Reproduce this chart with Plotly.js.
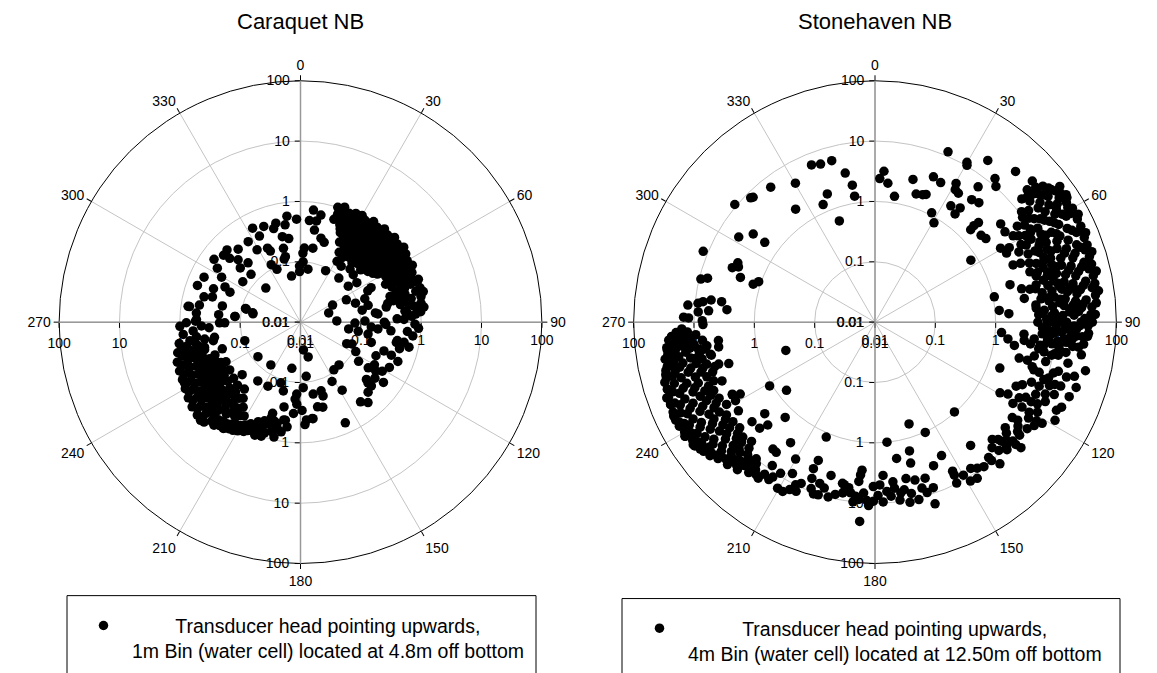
<!DOCTYPE html>
<html><head><meta charset="utf-8">
<script src="https://cdn.plot.ly/plotly-3.0.1.min.js"></script>
<style>html,body{margin:0;padding:0;background:#fff}#chart{width:1157px;height:673px}</style>
</head><body><div id="chart"></div>
<script>
const chartTitles = ['Caraquet NB', 'Stonehaven NB'];
const angularTickVals = [0,30,60,90,120,150,180,210,240,270,300,330];
const angularTickText = ['0','30','60','90','120','150','180','210','240','270','300','330'];
const radialTickVals = [0.01,0.1,1,10,100];
const radialTickText = ['0.01','0.1','1','10','100'];
const legendLine1 = 'Transducer head pointing upwards,';
const legendLine2 = ['1m Bin (water cell) located at 4.8m off bottom', '4m Bin (water cell) located at 12.50m off bottom'];

// [direction (deg, clockwise from north), value (log radial scale)]
const caraquetNE = [
[18,1.0],[21,1.1],[24,0.95],[27,1.05],[30,1.1],[33,0.98],[36,1.15],[39,1.05],[42,1.2],[45,1.1],[48,1.25],[51,1.15],[54,1.3],[57,1.2],[60,1.1],[63,1.2],[66,1.05],[69,0.95],
[19,0.78],[23,0.72],[26,0.82],[29,0.75],[32,0.85],[35,0.72],[38,0.8],[41,0.88],[44,0.75],[47,0.85],[50,0.9],[53,0.8],[56,0.92],[59,0.85],[62,0.9],[65,0.8],[68,0.7],
[22,0.55],[25,0.6],[28,0.52],[31,0.62],[34,0.55],[37,0.6],[40,0.5],[43,0.62],[46,0.58],[49,0.65],[52,0.55],[55,0.66],[58,0.6],[61,0.68],[64,0.58],[67,0.5],
[24,0.42],[27,0.38],[30,0.45],[33,0.4],[36,0.44],[39,0.38],[42,0.42],[45,0.46],[48,0.4],[51,0.45],[54,0.42],[57,0.48],[60,0.44],[63,0.5],
[26,0.3],[30,0.28],[34,0.32],[38,0.29],[42,0.3],[46,0.33],[50,0.3],[54,0.34],[58,0.32],
[29,0.21],[33,0.19],[37,0.22],[41,0.2],[45,0.23],[49,0.21],[53,0.25],
[31,0.15],[36,0.14],[43,0.16],[48,0.15],
[72,0.65],[75,0.95],[78,0.75],[73,0.45],[76,0.55],[82,0.8],[80,0.48],[71,1.1],[74,0.35]
];
const caraquetNE2 = [
[20,0.9],[23,0.85],[26,0.95],[29,0.9],[32,1.0],[35,0.9],[38,0.95],[41,1.0],[44,0.95],[47,1.05],[50,1.05],[53,1.0],[56,1.1],[59,1.0],[62,1.0],[65,0.95],[68,0.85],[71,0.85],
[21,0.65],[24,0.68],[27,0.62],[30,0.68],[33,0.7],[36,0.65],[39,0.7],[42,0.72],[45,0.66],[48,0.72],[51,0.75],[54,0.7],[57,0.75],[60,0.72],[63,0.75],[66,0.65],[69,0.6],
[23,0.48],[26,0.46],[29,0.5],[32,0.48],[35,0.5],[38,0.46],[41,0.55],[44,0.52],[47,0.5],[50,0.55],[53,0.5],[56,0.55],[59,0.52],[62,0.58],[65,0.62],
[28,0.35],[31,0.34],[35,0.36],[39,0.34],[43,0.36],[47,0.37],[51,0.36],[55,0.38],[59,0.38],[62,0.4],
[32,0.25],[36,0.26],[40,0.25],[44,0.27],[48,0.26],[52,0.28],[56,0.28],
[70,1.2],[74,1.15],[78,1.1],[81,1.05],[85,1.0],[76,1.25],[83,1.15],
[66,0.35],[69,0.42],[72,0.52],[75,0.62],[77,0.38],[79,0.58],[81,0.7],[84,0.55],[86,0.82],[70,0.75]
];
const caraquetE = [
[72,0.031],[64,0.07],[71,0.092],[79,0.11],[76,0.143],[83,0.178],[80,0.277],[77,0.44],[88.5,0.52],[91,0.79],[93,0.91],
[26,0.089],[41,0.093],[53,0.098],[55,0.138],[62,0.04],[88,0.04],[70,0.136],[84,0.195],[78,0.3],[71,0.64],[64,0.2],[90,0.245],[88,0.4],[65,0.17],[65,0.44],[63,0.95],
[91,0.08],[89,0.117],[94,0.15],[95,0.194],[91.5,0.26],[95.5,0.32],[98,0.064],[99,0.093],[100,0.137],[113,0.084],[106,0.166],[114,0.234],[109,0.29],[101,0.56],[100.8,0.43],
[124,0.145],[138,0.09],[124,0.226],[120,0.26],[132,0.32],[132,0.38],[148.5,0.21],[136,0.41],
[123,0.306],[131,0.28],[145,0.092],[118,0.109],[115,0.07],[156,0.67],[127,0.35],[152,0.13],[102,0.42],
[85,0.6],[87,0.7],[95,0.6],[97,0.75],[103,0.7],[105,0.5],[110,0.4],[112,0.55],[117,0.45],[121,0.38],[126,0.5],[140,0.55],[143,0.45],[84,0.9],[80,0.65]
];
const caraquetN = [
[352.7,0.59],[357.8,0.51],[351,0.43],[346,0.49],[344,0.41],[339,0.5],[333,0.56],[334.5,0.38],[327,0.39],[329,0.25],[336,0.22],[337,0.19],[348,0.28],[352,0.25],[347,0.18],[347,0.13],[345.5,0.12],[336,0.091],[333,0.117],[349,0.06],[359,0.085],
[2.5,0.1],[3,0.17],[2,0.14],[9.5,0.175],[8.6,0.35],[13.7,0.27],[16.5,0.24],[8,0.077],[359,0.069],[6.6,0.74],[10.8,0.64],[5,0.49],[9,0.5],[18,0.62],
[314.5,0.51],[319.5,0.39],[311,0.49],[312,0.38],[306,0.59],[303,0.44],[315,0.29],[312,0.22],[318.5,0.205],[314,0.138],[299.7,0.32],[305,0.147],[295,0.58],[289.6,0.65],[291,0.35],
[284.7,0.45],[286,0.33],[295,0.24],[293,0.186],[314.5,0.064],[278,0.72],[279.6,0.5],[281.7,0.21],[275,0.54],[275.2,0.23],[275,0.123],[283.5,0.084],[280,0.063]
];
const caraquetSW = [
[200,0.7],[204,0.9],[208,1.1],[212,1.3],[216,1.5],[220,1.7],[224,2.0],[228,2.0],[232,1.9],[236,1.75],[240,1.6],[244,1.5],[248,1.45],[252,1.4],[256,1.25],[260,1.1],
[206,0.75],[210,0.95],[214,1.1],[218,1.2],[222,1.35],[226,1.5],[230,1.45],[234,1.3],[238,1.25],[242,1.15],[246,1.1],[250,1.0],[254,0.95],[258,0.85],
[211,0.65],[215,0.8],[219,0.9],[223,1.0],[227,1.1],[231,1.0],[235,0.95],[239,0.85],[243,0.8],[247,0.75],[251,0.7],[255,0.68],[259,0.6],
[214,0.5],[218,0.6],[222,0.7],[226,0.75],[230,0.7],[234,0.65],[238,0.6],[242,0.55],[246,0.5],[250,0.52],[254,0.45],
[217,0.38],[221,0.45],[225,0.5],[229,0.52],[233,0.45],[237,0.42],[241,0.38],[245,0.35],[249,0.33],
[220,0.28],[225,0.3],[230,0.28],[236,0.26],[242,0.25],[228,0.2],[216,0.16],
[225.5,2.1],[215.8,1.47],[207.4,1.1],[201.4,0.68],[242.4,1.48]
];
const caraquetSW2 = [
[202,0.8],[206,1.0],[210,1.2],[214,1.35],[218,1.5],[222,1.6],[226,1.8],[230,1.7],[234,1.6],[238,1.5],[242,1.35],[246,1.3],[250,1.2],[254,1.1],[258,1.0],
[208,0.85],[212,1.0],[216,1.2],[220,1.3],[224,1.25],[228,1.3],[232,1.2],[236,1.1],[240,1.05],[244,1.0],[248,0.95],[252,0.85],[256,0.8],
[213,0.7],[217,0.75],[221,0.8],[225,0.9],[229,0.85],[233,0.8],[237,0.75],[241,0.7],[245,0.62],[249,0.6],[253,0.58],[257,0.55],
[216,0.58],[220,0.55],[224,0.62],[228,0.62],[232,0.58],[236,0.55],[240,0.48],[244,0.45],[248,0.42],
[219,0.42],[223,0.38],[227,0.4],[231,0.36],[235,0.35],[239,0.32],[243,0.3],
[192,0.65],[195,0.75],[198,0.85],[196,0.6],[200,0.55],[203,0.62],[199,1.0],[202,1.05],[205,0.95],[193,0.9],[190,0.7],[197,0.45]
];
const caraquetS = [
[207,0.155],[198,0.114],[194,0.15],[184,0.19],[183,0.156],[177.6,0.122],[174,0.08],[167.6,0.039],[174,0.029],[190.6,0.06],[214.7,0.073],[230.9,0.081],
[170,0.162],[163.3,0.154],[165.3,0.286],[179,0.29],[182.6,0.23],[176.5,0.42],[172.6,0.41],[189.7,0.44],[187.3,0.56],[193,0.53],[197,0.38],[191,0.27],
[184.4,0.33],[177.5,0.5],[173,0.405],[168.6,0.27],[163,0.19],[194.6,0.5],[188.8,0.44]
];
const caraquetW = [
[269.7,0.78],[271.4,0.53],[267.8,0.44],[265.3,0.61],[266.5,0.33],[260,0.28],[260,0.41],[260.5,0.72],[255,1.03],[254.7,0.75],[255.4,0.44],[251.2,0.234],
[269.5,0.22],[251.6,0.094],[278,0.76],[270.5,0.55],[269.5,0.18],[275,0.123],[284,0.087],[281,0.064],[264,0.9],[268,1.0],[262,0.55],[258,0.3]
];

const stonehavenN = [
[338,6.45],[341,5.9],[345,5.9],[348.7,3.3],[350.6,2.0],[330.2,4.5],[322.3,6.7],[315.7,7.8],[315,8.2],[310,10.8],[324.9,1.94],[336.2,1.35],[339.6,1.85],[340.6,0.6],
[302,4.6],[305.9,3.1],[305.9,1.8],[292.4,12],[290.9,3.4],[293.4,3.0],[288.4,2.24],[289.2,1.1],[287.3,1.3],[283.9,9.4],[284.7,7.4],[292,2.76],
[350.8,1.3],[1.9,2.4],[3.4,3.2],[5.3,2.05],[8.8,1.29],[14.9,2.8],[17.8,1.7],[21.8,1.9],[20.5,1.8],[21.9,3.95],[25.2,3.6],[23.2,11.8],[29.9,11.4],[30.4,10.3],[34.9,18.5],
[30.3,4.6],[31.2,3.7],[32.9,3.5],[27.4,1.1],[30.7,0.82],[33.1,2.0],[36.7,2.3],[36.5,1.7],[37.3,6.6],[38.3,3.85],[41,4.2],[39.9,12.6],[41.7,10.3],[43,26],[48.1,31.8],
[46,1.6],[45.7,1.95],[46.1,2.4],[50.7,1.87],[53,2.0],[57.1,0.78],[52,4.4],[55.2,4.2],[59.5,2.6],[62.3,2.9],[67.5,3.0],[74.5,2.1],[77.2,3.1],[78,1.05],[84.6,1.17],[86.4,1.67]
];
const stonehavenW = [
[275.2,13],[276.1,8.9],[276.8,7.4],[277.7,5.5],[277.6,3.67],[274.8,2.9],[273.9,5.8],[273.3,8.6],[271.5,14.9],[271.3,12.3],[270.5,7.3],[269.2,7.1],
[265.7,24],[264.9,14.4],[263.3,12.2],[263.3,4.1]
];
const stonehavenNE = [
[50,30],[53,45],[55,55],[57,62],[60,60],[62,65],[65,58],[67,62],[70,55],[72,60],[75,52],[77,58],[80,50],[82,55],[85,48],[88,45],[90,40],[93,35],[96,30],
[49,22],[52,28],[54,35],[57,40],[59,30],[61,42],[64,35],[66,45],[69,38],[71,32],[74,40],[76,30],[79,36],[81,28],[84,33],[86,27],[89,30],[91,25],[94,22],[97,20],
[50,15],[52,18],[55,20],[58,17],[60,22],[63,19],[65,24],[68,18],[70,22],[73,17],[75,21],[78,16],[80,19],[83,15],[85,20],[87,17],[90,15],[92,18],[95,14],[98,12],
[53,11],[56,12],[59,10],[62,13],[64,11],[67,12.5],[69,10],[72,12],[74,9.5],[77,11],[79,13],[82,10],[84,12],[87,9.5],[89,11],[92,10],[94,8.5],[97,9],[100,10.5],
[56,7],[60,7.5],[63,6.5],[66,8],[70,7],[73,6.5],[76,7.5],[80,6.5],[83,8],[86,6.5],[89,7],[92,6],[95,7.5],[98,5.8],
[58,5],[64,4.5],[68,4],[72,5],[78,4.2],[85,4.8],[90,5],[96,4.5],[61,3.5],[81,3.2],
[50.8,27],[59.3,52],[74.3,11],[80.5,22.5],[83.9,4.8],[50.5,19],[52.3,43],[53.7,63],[56.3,64],[54.6,10],[60.8,7.9],[78.2,5.2],[87.4,5.2],
[94,7.6],[93.3,9.7],[92.2,14],[94,18],[91.1,20],[96,14.4],[97.9,6.6],[99.2,5.6]
];
const stonehavenNE2 = [
[51,38],[54,50],[56,48],[58,55],[61,52],[63,58],[66,52],[68,55],[71,48],[73,52],[76,45],[78,50],[81,44],[83,48],[86,40],[88,38],[91,34],[94,28],[97,25],
[51,24],[53,32],[56,30],[58,35],[60,38],[62,28],[65,40],[67,30],[70,42],[72,28],[75,35],[77,26],[80,32],[82,24],[85,29],[87,24],[90,26],[92,22],[95,19],[99,16],
[51,20],[54,24],[57,23],[59,19],[61,25],[64,22],[66,20],[69,25],[71,18],[74,24],[76,18],[79,22],[81,17],[84,22],[86,18],[88,20],[91,16],[93,20],[96,16],
[54,14],[57,14],[60,13],[63,15],[65,13.5],[68,14],[70,12.5],[73,14],[75,13],[78,12.5],[80,14],[83,12.5],[85,14],[88,13],[90,12],[93,12.5],[96,11],[99,13],
[57,9],[60,9.5],[62,8.5],[65,10],[67,9],[70,9.5],[72,8.5],[75,9],[78,8.5],[80,9.5],[82,8],[85,9],[88,8.5],[90,9],[93,8],[96,7.5],
[59,6],[62,5.5],[66,6],[69,5.5],[74,6],[77,5.5],[82,6],[87,6],[91,7],[94,6]
];
const stonehavenE = [
[94.7,1.27],[97.2,1.66],[99.5,2.2],[94.6,3.0],[97,3.1],[100.6,9.5],[100.2,12.2],[102,18.6],[105.2,26.6],[104,4.0],[105.8,5.1],[106.7,5.6],[110.2,1.6],
[114.4,3.7],[118.4,3.2],[120.5,4.5],[116.5,6.2],[114.2,8.3],[111.3,8.3],[108.8,9],[107.8,10.5],[105.9,11.9],[109.1,14.3],[112.9,11.6],[116.7,10.3],[120.3,9.1],
[124.5,7.4],[121.2,17.3],[118.6,25],[115.9,22],[114.5,25],[127.5,9.5],[130.2,7.1],[133.3,7.5],[133.3,9.8],[130.8,10.4],[131,12.3],[130.7,15.5],[133.6,6.6],
[142.2,3.85],[140,8.5],[139.9,10],[138.6,13.5],[138.5,0.97],[146.8,7.9],[152.5,6.1],[152.6,7.2],[146.8,12.4],[149,11.8],[153.1,9.8],[157.8,3.7],[153.5,2.96],
[104,2.9],[119.5,2.4],[117.7,5],[124.8,5.9],[121.4,13.7],[135,5.6],[99,29],[93.8,34],[108,32],[111,28],[103,38],
[98,4],[100,7],[102,5],[103,8],[105,14],[106,20],[107,7],[109,18],[110,12],[111,6],[112,16],[113,4.5],[115,13],[117,8],[119,12],[120,6.5],[122,10],[123,14],
[125,12],[126,8.5],[128,11],[129,6],[132,8.5],[134,11],[136,9],[137,7],[143,10],[145,9],[150,8.5]
];
const stonehavenS = [
[161.5,0.6],[155.5,1.02],[174.3,1.0],[165,1.62],[171,1.94],[165.8,2.56],[162.2,5.2],[165.8,5.0],[168.8,4.4],[173.6,4.6],[177,3.5],[180.6,5.3],[178.3,5.0],
[173.3,5.9],[170.1,6.6],[171.4,7.3],[164.2,7.2],[160.6,8.1],[166.1,10.7],[161.7,14.8],[174.7,7.9],[177.4,9.6],[180.5,9.3],[182.6,9.1],[183.8,6.9],[185.2,8.9],
[186.4,8.0],[185,2.9],[185.4,3.5],[185.8,4.5],[188.1,7.2],[190.3,7.1],[191.4,5.3],[184.4,20.5],
[203,1.17],[210.1,4.2],[208.6,7.2],[210.4,15.5],[208.6,15.7],[205,12.4],[204.6,8.7],[202,6.2],[202.3,3.0],[202.8,4.3],[198.9,6.7],[196,4.4],[199.7,10.6],
[198.2,10.3],[190.7,5.5],[190.7,7.6],[215,2.75],[218.8,5.0],[217.2,5.1],[215.6,8.4],[213.4,11.9],[216.8,17],[220.4,15.4],[223.2,18.2],
[163,9],[168,8],[169,11],[172,9.5],[176,6.5],[179,7.5],[182,11],[187,10],[189,6],[193,8.5],[195,10],[197,7.5],[201,9],[206,10],[207,13],[212,9],[214,14]
];
const stonehavenSW = [
[252,41],[255,38],[258,33],[261,30],[248,45],[245,48],[242,47],[239,47],[236,43],[233,36],[250,44],[257,36],[263,26],[266,24],
[230,27],[232,30],[235,32],[238,30],[241,33],[244,29],[247,32],[250,28],[253,30],[256,26],[259,25],[262,22],[265,19],[268,16],[227,22],[224,20],
[222,16],[225,17],[228,16],[231,18],[234,20],[237,18],[240,21],[243,18],[246,20],[249,17],[252,19],[255,16],[258,18],[261,15],[264,14],[267,13],[219,14],[216,13],
[221,10],[224,11],[227,12],[230,10],[233,12],[236,11],[239,13],[242,10.5],[245,12],[248,11],[251,12.5],[254,10],[257,11],[260,9],[263,10.5],[266,9.5],
[226,7],[229,8],[232,7],[235,7.5],[238,8],[241,6.5],[244,7.5],[247,8],[250,7],[253,6.5],[256,7.5],[259,6],[262,6.5],
[231,4.2],[237,5],[243,4.5],[249,5.2],[255,4.8],[261,4.2],
[262.3,29.7],[258.3,30.8],[255.9,37.6],[252.1,41.4],[248.2,44.5],[243.8,48],[239,46.8],[235.5,42],[231.5,29.5],[227.5,22.6],
[254.2,3.3],[254.5,5.7],[258.6,5.85],[261.4,9.2],[258.6,11],[241.9,3.4],[243.2,4.45],[240.6,4.5],[230.3,2.37],[223.3,1.48],[226.2,2.9],[227.4,3.95],
[238.8,1.1],[252.4,0.355],[232.4,0.71]
];
const stonehavenSW2 = [
[254,42],[250,47],[246,46],[243,44],[240,44],[237,40],[234,38],[231,33],[229,28],[226,25],[223,22],[220,18],[218,16],[260,34],[263,30],[265,27],
[251,35],[248,38],[245,36],[242,38],[239,36],[236,35],[233,28],[229,24],[226,20],[255,30],[258,28],[261,26],[264,22],[267,20],
[251,23],[248,25],[245,24],[242,26],[239,24],[236,25],[233,23],[230,21],[227,18],[224,16],[221,14],[254,22],[257,21],[260,20],[263,17],[266,16],
[250,15],[247,14],[244,15],[241,14],[238,15],[235,14],[232,14],[229,13],[226,13],[223,12],[220,11.5],[253,13],[256,14],[259,13],[262,12.5],[265,11.5],
[249,9],[246,9.5],[243,9],[240,9.5],[237,9],[234,9.5],[231,8.5],[228,9.5],[225,9],[252,8.5],[255,9],[258,8.5],[261,7.5],[264,7.5]
];

const caraquetPts = [].concat(caraquetNE, caraquetNE2, caraquetE, caraquetN, caraquetSW, caraquetSW2, caraquetS, caraquetW);
const stonehavenPts = [].concat(stonehavenN, stonehavenW, stonehavenNE, stonehavenNE2, stonehavenE, stonehavenS, stonehavenSW, stonehavenSW2);

const FONT = 'Liberation Sans, Arial, Helvetica, sans-serif';
const W = 1157, H = 673;
const R = 248, CY = 331;
const centersX = [300.5, 875];

const radialDirs = [
  {angle: 90, side: 'counterclockwise', tickangle: 90},
  {angle: 0, side: 'clockwise', tickangle: 0},
  {angle: 180, side: 'counterclockwise', tickangle: 180},
  {angle: 270, side: 'clockwise', tickangle: -90}
];

const layout = {
  width: W, height: H,
  margin: {l: 0, r: 0, t: 0, b: 0},
  paper_bgcolor: '#fff',
  font: {family: FONT, color: '#000', size: 14},
  showlegend: true,
  annotations: [],
  shapes: []
};

function polarLayout(ci, k) {
  const cx = centersX[ci];
  const dom = {
    x: [(cx - R) / W, (cx + R) / W],
    y: [(H - CY - R) / H, (H - CY + R) / H]
  };
  const d = radialDirs[k];
  const base = k === 0;
  return {
    domain: dom,
    bgcolor: base ? '#fff' : 'rgba(0,0,0,0)',
    angularaxis: {
      visible: base,
      rotation: 90, direction: 'clockwise',
      tickmode: 'array', tickvals: angularTickVals, ticktext: angularTickText,
      ticks: 'outside', ticklen: 5, tickcolor: '#000',
      showline: true, linecolor: '#000', linewidth: 1,
      showgrid: true, gridcolor: '#c4c4c4', gridwidth: 1,
      tickfont: {size: 14, color: '#000', family: FONT},
      layer: 'below traces'
    },
    radialaxis: {
      type: 'log', range: [-2, 2],
      angle: d.angle, side: d.side, tickangle: d.tickangle,
      tickmode: 'array', tickvals: radialTickVals, ticktext: radialTickText,
      ticks: 'outside', ticklen: 5, tickcolor: '#000',
      showline: true, linecolor: '#999999', linewidth: 1.5,
      showgrid: base, gridcolor: '#c4c4c4', gridwidth: 1,
      tickfont: {size: 14, color: '#000', family: FONT},
      layer: 'below traces'
    }
  };
}

let idx = 0;
const traces = [];
const sets = [caraquetPts, stonehavenPts];
const pads = [8, 10];
for (let ci = 0; ci < 2; ci++) {
  const pts = sets[ci];
  const thetaVals = pts.map(p => p[0]);
  const rVals = pts.map(p => p[1]);
  for (let k = 0; k < 4; k++) {
    idx++;
    const id = idx === 1 ? 'polar' : 'polar' + idx;
    layout[id] = polarLayout(ci, k);
    if (k < 3) {
      // carrier trace so the axis-only overlay subplot is drawn
      traces.push({
        type: 'scatterpolar', mode: 'none', subplot: id,
        theta: thetaVals, r: rVals, showlegend: false, hoverinfo: 'skip'
      });
    }
  }
  traces.push({
    type: 'scatterpolar', mode: 'markers',
    subplot: 'polar' + idx,
    theta: thetaVals,
    r: rVals,
    marker: {color: '#000', size: 9.5, line: {width: 0}},
    name: '\u00a0'.repeat(pads[ci]) + legendLine1 + '<br>' + legendLine2[ci],
    legend: ci === 0 ? 'legend' : 'legend2',
    hoverinfo: 'skip'
  });
  layout.annotations.push({
    text: chartTitles[ci], xref: 'paper', yref: 'paper',
    x: centersX[ci] / W, y: (H - 22) / H, xanchor: 'center', yanchor: 'middle',
    showarrow: false, font: {size: 22, color: '#000', family: FONT}
  });
}

const boxes = [[67, 536, 612], [622, 1120, 615]];
boxes.forEach(b => layout.shapes.push({
  type: 'rect', xref: 'paper', yref: 'paper',
  x0: b[0] / W, x1: b[1] / W, y0: -0.2, y1: (H - b[2]) / H,
  line: {color: '#000', width: 1}, fillcolor: 'rgba(0,0,0,0)'
}));

const legendBase = {
  xanchor: 'left', yanchor: 'top', bgcolor: 'rgba(0,0,0,0)', borderwidth: 0,
  font: {size: 19.5, color: '#000', family: FONT}, itemwidth: 47, valign: 'top'
};
layout.legend = Object.assign({}, legendBase, {x: 75 / W, y: (H - 623) / H});
layout.legend2 = Object.assign({}, legendBase, {x: 631 / W, y: (H - 626) / H});

Plotly.newPlot('chart', traces, layout, {displayModeBar: false, staticPlot: true});
</script></body></html>
